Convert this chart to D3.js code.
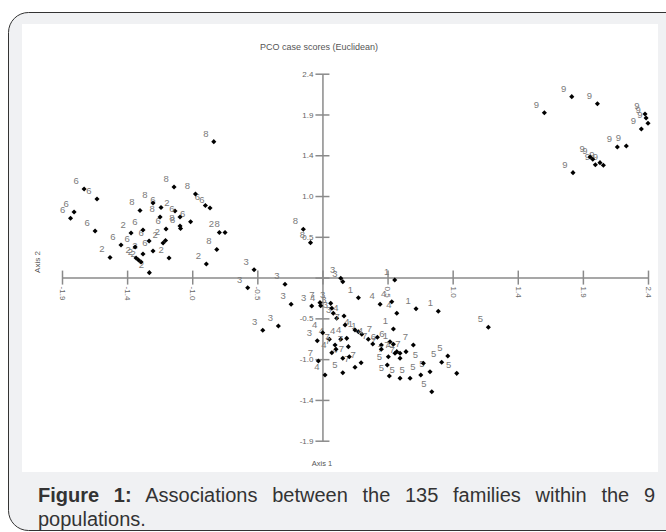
<!doctype html>
<html lang="en">
<head>
  <meta charset="utf-8">
  <title>PCO case scores</title>
  <script type="text/javascript" src="https://cdnjs.cloudflare.com/ajax/libs/d3/7.8.5/d3.min.js"></script>
  <style>
    body { margin: 0; background: #fff; }
    #wrap { position: relative; width: 666px; height: 532px; overflow: hidden; }
    #caption {
      position: absolute; left: 38px; top: 483px; width: 617px;
      font-family: "Liberation Sans", Arial, sans-serif; font-size: 20px; line-height: 24px;
      color: #333; text-align: justify;
    }
    #caption b { font-weight: bold; }
  </style>
</head>
<body>
<div id="wrap">
  <svg width="666" height="532" id="svg"></svg>
  <div id="caption"><b>Figure 1:</b> Associations between the 135 families within the 9 populations.</div>
</div>

<script type="text/javascript">

	// case scores per population: [axis 1, axis 2]
	var pop1 = [[0.265,-0.637],[0.290,-0.667],[0.523,-0.785],[0.548,-0.872],[0.572,-0.891],[0.533,-0.028],
		[0.265,-0.237],[0.690,-0.366],[0.854,-0.397],[0.523,-0.605]];
	var pop2 = [[-1.566,0.237],[-1.411,0.525],[-1.374,0.231],[-1.356,0.207],[-1.337,0.184],[-1.323,0.278],
		[-1.276,0.058],[-1.175,0.407],[-1.157,0.437],[-1.131,0.231],[-1.087,0.784],[-0.760,0.531],[-0.856,0.160]];
	var pop3 = [[-0.504,0.093],[-0.551,-0.119],[-0.276,-0.079],[-0.231,-0.314],[-0.440,-0.620],[-0.325,-0.570],
		[-0.079,-0.334],[-0.038,-0.743],[0.135,-0.008],[0.150,-0.048],[0.061,-0.303],[0.069,-0.361],
		[0.080,-0.420],[0.105,-0.479]];
	var pop4 = [[-0.013,-0.331],[0.159,-0.452],[0.240,-0.617],[0.338,-0.726],[0.002,-0.649],[0.051,-0.726],
		[0.150,-0.950],[0.019,-1.147],[0.135,-0.726],[0.179,-0.715],[0.425,-0.314],[0.511,-0.284],
		[0.548,-0.420],[0.069,-0.884]];
	var pop5 = [[0.478,-1.029],[0.493,-1.158],[0.572,-1.185],[0.744,-1.009],[0.725,-1.147],[0.793,-1.108],
		[0.806,-1.343],[0.879,-0.997],[0.924,-0.923],[0.990,-1.127],[0.150,-1.120],[1.223,-0.585],[0.646,-1.185]];
	var pop6 = [[-1.757,1.043],[-1.662,0.925],[-1.831,0.772],[-1.857,0.698],[-1.676,0.549],[-1.485,0.384],
		[-1.381,0.360],[-1.190,0.825],[-1.153,0.572],[-1.323,0.560],[-1.278,0.431],[-1.249,0.313],
		[-0.863,0.849],[-0.829,0.819],[-1.050,0.713],[-0.972,0.658],[0.434,-0.793],[0.498,-0.755]];
	var pop7 = [[-0.018,-0.295],[0.167,-0.558],[0.371,-0.782],[0.405,-0.703],[0.434,-0.844],[0.535,-0.891],
		[0.486,-0.931],[0.572,-0.950],[0.616,-0.872],[0.670,-0.793],[0.100,-0.844],[0.191,-0.813],
		[0.198,-0.931],[0.240,-1.056],[0.285,-1.002],[-0.030,-0.982],[0.093,-0.793]];
	var pop8 = [[-1.345,0.790],[-1.249,0.878],[-1.197,0.713],[-1.094,1.067],[-0.936,0.984],[-1.050,0.607],
		[-1.046,0.578],[-0.718,0.531],[-0.779,0.331],[-0.801,1.600],[-0.141,0.569],[-0.088,0.411]];
	var pop9 = [[1.838,2.130],[2.027,2.047],[1.636,1.941],[2.378,1.926],[2.386,1.879],[2.400,1.816],
		[2.351,1.749],[2.174,1.537],[2.240,1.549],[1.973,1.420],[1.993,1.393],[2.012,1.329],
		[2.046,1.353],[2.071,1.322],[1.847,1.235]];

	var populations = [pop1, pop2, pop3, pop4, pop5, pop6, pop7, pop8, pop9];

	var tickValues = [-1.92, -1.44, -0.96, -0.48, 0, 0.48, 0.96, 1.44, 1.92, 2.4];
	var tickLabels = ['-1.9', '-1.4', '-1.0', '-0.5', '', '0.5', '1.0', '1.4', '1.9', '2.4'];

	var svg = d3.select('#svg');

	// frame and white plot panel
	svg.append('rect')
		.attr('x', 8.5).attr('y', 12.5)
		.attr('width', 690).attr('height', 518)
		.attr('rx', 20)
		.attr('fill', '#f0f1f3')
		.attr('stroke', '#333')
		.attr('stroke-width', 1);

	svg.append('rect')
		.attr('x', 22).attr('y', 24)
		.attr('width', 636).attr('height', 448)
		.attr('fill', '#ffffff');

	var x = d3.scaleLinear().domain([-1.92, 2.4]).range([62, 648]);
	var y = d3.scaleLinear().domain([-1.92, 2.4]).range([440.7, 73.7]);

	function labelFor(v) {
		return tickLabels[tickValues.indexOf(v)];
	}

	// horizontal axis through the origin
	var xAxis = svg.append('g')
		.attr('transform', 'translate(0,' + y(0) + ')')
		.call(d3.axisBottom(x).tickValues(tickValues).tickFormat(labelFor).tickSizeInner(7).tickSizeOuter(0));

	xAxis.selectAll('.tick line').attr('y1', -7);
	xAxis.selectAll('.tick text')
		.attr('transform', 'rotate(90)')
		.attr('x', 9).attr('y', 0).attr('dy', '0.32em')
		.attr('text-anchor', 'start');

	// vertical axis through the origin
	var yAxis = svg.append('g')
		.attr('transform', 'translate(' + x(0) + ',0)')
		.call(d3.axisLeft(y).tickValues(tickValues).tickFormat(labelFor).tickSizeInner(7).tickSizeOuter(0));

	yAxis.selectAll('.tick line').attr('x1', 7);
	yAxis.selectAll('.tick text').attr('x', -9);

	svg.selectAll('.domain, .tick line')
		.attr('stroke', '#8a8a8a')
		.attr('stroke-width', 1.5);

	svg.selectAll('.tick text')
		.attr('fill', '#666')
		.style('font-family', '"Liberation Sans", Arial, sans-serif')
		.style('font-size', '8px');

	// case scores: dot plus population number
	populations.forEach(function(pop, i) {
		var g = svg.append('g').attr('class', 'pop' + (i + 1));

		g.selectAll('text')
			.data(pop)
			.enter()
			.append('text')
			.attr('x', function(d) { return x(d[0]) - 8; })
			.attr('y', function(d) { return y(d[1]) - 5; })
			.attr('text-anchor', 'middle')
			.attr('fill', '#7a7a7a')
			.style('font-family', '"Liberation Sans Narrow", "Liberation Sans", Arial, sans-serif')
			.style('font-size', '9.5px')
			.text(i + 1);

		g.selectAll('path')
			.data(pop)
			.enter()
			.append('path')
			.attr('d', d3.symbol().type(d3.symbolSquare).size(13))
			.attr('transform', function(d) { return 'translate(' + x(d[0]) + ',' + y(d[1]) + ') rotate(45)'; })
			.attr('fill', '#000');
	});

	// titles
	svg.append('text')
		.attr('x', 319).attr('y', 50)
		.attr('text-anchor', 'middle')
		.attr('fill', '#555')
		.style('font-family', '"Liberation Sans", Arial, sans-serif')
		.style('font-size', '9px')
		.text('PCO case scores (Euclidean)');

	svg.append('text')
		.attr('transform', 'translate(40,262) rotate(-90)')
		.attr('text-anchor', 'middle')
		.attr('fill', '#555')
		.style('font-family', '"Liberation Sans", Arial, sans-serif')
		.style('font-size', '8px')
		.text('Axis 2');

	svg.append('text')
		.attr('x', 322).attr('y', 466)
		.attr('text-anchor', 'middle')
		.attr('fill', '#555')
		.style('font-family', '"Liberation Sans", Arial, sans-serif')
		.style('font-size', '7.5px')
		.text('Axis 1');

</script>
</body>
</html>
